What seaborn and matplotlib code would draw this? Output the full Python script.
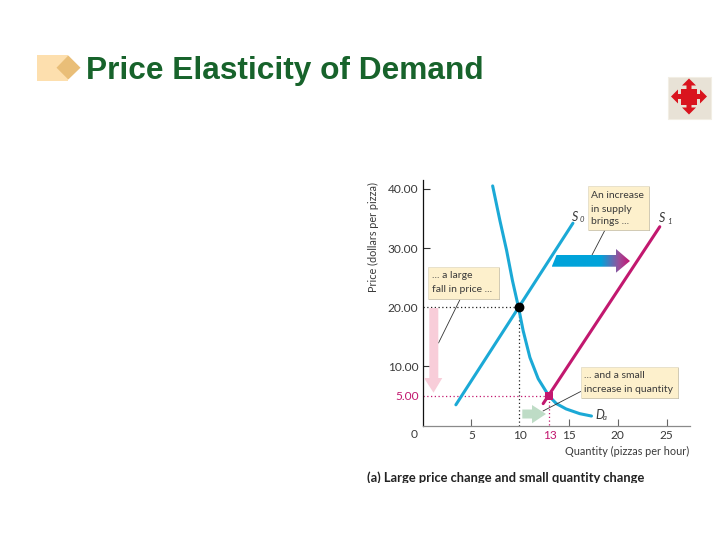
"""Price elasticity of demand slide: supply shift along a steep demand curve."""

import matplotlib
matplotlib.use("Agg")
import matplotlib.pyplot as plt
import numpy as np
import pandas as pd
import seaborn as sns
from matplotlib.colors import LinearSegmentedColormap
from matplotlib.patches import Polygon, Rectangle

# data
demand_q = [7.17, 7.92, 8.6, 9.2, 9.83, 10.3, 10.99, 11.84, 12.93, 13.7, 14.7, 16.1, 17.3]
demand_p = [40.5, 34.6, 29.6, 24.5, 19.9, 16.0, 11.5, 7.9, 5.0, 3.7, 2.8, 2.0, 1.6]
supply0_q = [3.4, 15.4]
supply0_p = [3.5, 34.2]
supply1_q = [12.35, 24.3]
supply1_p = [3.7, 33.6]
x_ticks = [5, 10, 13, 15, 20, 25]
y_ticks = [5, 10, 20, 30, 40]
y_labels = ["5.00", "10.00", "20.00", "30.00", "40.00"]

BLUE = "#1BA9D6"
MAGENTA = "#C2186F"
TEXT = "#3A3A3A"
BOX = "#FDF0CC"

W, H = 720, 540

sns.set_theme(style="white")
plt.rcParams["font.family"] = ["Lato", "DejaVu Sans"]

fig = plt.figure(figsize=(7.2, 5.4), dpi=100)

# overlay in pixel coordinates for the slide furniture and arrows
ov = fig.add_axes([0, 0, 1, 1], zorder=3)
ov.set_xlim(0, W)
ov.set_ylim(H, 0)
ov.axis("off")
ov.patch.set_alpha(0)

ax = fig.add_axes([422.7 / W, 1 - 425.5 / H, (690 - 422.7) / W, (425.5 - 180) / H], zorder=2)
ax.set_xlim(0, 27.4)
ax.set_ylim(0, 41.5)
ax.patch.set_alpha(0)

# ---------------------------------------------------------------------------
# curves
# ---------------------------------------------------------------------------
ax.plot([0, 9.9, 9.9], [20, 20, 0], color="#222222", lw=0.9, ls=(0, (1, 2)), zorder=1)
ax.plot([0, 12.95, 12.95], [5, 5, 0], color=MAGENTA, lw=0.9, ls=(0, (1, 2)), zorder=1)

curves = pd.concat([
    pd.DataFrame({"q": demand_q, "p": demand_p, "curve": "D"}),
    pd.DataFrame({"q": supply0_q, "p": supply0_p, "curve": "S0"}),
    pd.DataFrame({"q": supply1_q, "p": supply1_p, "curve": "S1"}),
])
sns.lineplot(
    data=curves, x="q", y="p", hue="curve", sort=False, estimator=None,
    palette={"D": BLUE, "S0": BLUE, "S1": MAGENTA},
    linewidth=2.2, legend=False, ax=ax, zorder=3, solid_joinstyle="round",
)
sns.scatterplot(x=[9.9], y=[20], color="black", s=50, linewidth=0, ax=ax, zorder=4)
sns.scatterplot(x=[12.95], y=[5], color=MAGENTA, s=34, marker="s", linewidth=0, ax=ax, zorder=4)

# ---------------------------------------------------------------------------
# axes
# ---------------------------------------------------------------------------
for side in ["top", "right"]:
    ax.spines[side].set_visible(False)
ax.spines["left"].set_color("#111111")
ax.spines["left"].set_linewidth(0.9)
ax.spines["bottom"].set_color("#8A8A8A")
ax.spines["bottom"].set_linewidth(0.9)

ax.set_xticks(x_ticks)
ax.set_xticklabels([str(t) for t in x_ticks], fontsize=8.6, color=TEXT)
ax.set_yticks(y_ticks)
ax.set_yticklabels(y_labels, fontsize=8.6, color=TEXT)
ax.tick_params(axis="x", direction="in", length=5, width=0.8, color="#666666", pad=3, bottom=True)
ax.tick_params(axis="y", direction="in", length=5, width=0.8, color="#333333", pad=3, left=True)
ax.get_xticklabels()[2].set_color(MAGENTA)
ax.get_yticklabels()[0].set_color(MAGENTA)
for i, tick in enumerate(ax.xaxis.get_major_ticks()):
    if x_ticks[i] in (10, 13):
        tick.tick1line.set_visible(False)
for i, tick in enumerate(ax.yaxis.get_major_ticks()):
    if y_ticks[i] in (5, 20):
        tick.tick1line.set_visible(False)
ax.set_xlabel("")
ax.set_ylabel("")

ov.text(414, 435, "0", fontsize=8.6, color=TEXT, ha="center", va="center")
ov.text(373, 237, "Price (dollars per pizza)", fontsize=7.8, color=TEXT, rotation=90, ha="center", va="center")
ov.text(689, 451, "Quantity (pizzas per hour)", fontsize=7.8, color=TEXT, ha="right", va="center")
ov.text(367, 478, "(a) Large price change and small quantity change", fontsize=9.3,
        fontweight="bold", color="#222222", ha="left", va="center")
# the source slide cuts the caption off at the bottom
ov.add_patch(Rectangle((360, 483), 300, 8, fc="white", ec="none", zorder=5))

# curve labels
for x, y, main, sub in [(571.5, 217, "S", "0"), (659, 218, "S", "1"), (595, 415, "D", "a")]:
    ov.text(x, y, main, fontsize=9, color=TEXT, style="italic", ha="left", va="center")
    ov.text(x + 8, y + 3, sub, fontsize=5.5, color=TEXT, style="italic", ha="left", va="center")

# ---------------------------------------------------------------------------
# annotation boxes and leaders
# ---------------------------------------------------------------------------
boxes = [
    (587.7, 186, 61.3, 44, ["An increase", "in supply", "brings ..."], 591, [195, 209, 222]),
    (428.3, 267.3, 71, 32, ["... a large", "fall in price ..."], 432.5, [276, 290]),
    (580.7, 367.3, 97.6, 31, ["... and a small", "increase in quantity"], 584.5, [376, 389.5]),
]
for x, y, w, h, lines, tx, tys in boxes:
    ov.add_patch(Rectangle((x + 0.8, y + 0.8), w, h, fc="#9A9A9A", ec="none", zorder=1))
    ov.add_patch(Rectangle((x, y), w, h, fc=BOX, ec="#D8D0B8", lw=0.4, zorder=2))
    for line, ty in zip(lines, tys):
        ov.text(tx, ty, line, fontsize=7.5, color=TEXT, ha="left", va="center", zorder=3)

for xs, ys in [([605, 592], [230, 255]), ([460, 438.5], [299.5, 343]), ([580.7, 543], [391.5, 411])]:
    ov.plot(xs, ys, color="#333333", lw=0.6, zorder=1)

# block arrows
ov.add_patch(Polygon([(429.3, 308), (438.3, 308), (438.3, 378), (442.3, 378), (433.5, 392.7),
                      (424, 378), (429.3, 378)], fc="#F8CDD9", ec="none", zorder=1))
ov.add_patch(Polygon([(522.3, 409.5), (532, 409.5), (532, 405), (546, 414), (532, 423.3),
                      (532, 418.5), (522.3, 418.5)], fc="#BEDCC6", ec="none", zorder=1))

shift = Polygon([(556.5, 255), (616, 255), (616, 249), (630, 261), (616, 272.7), (616, 266.7), (551.7, 266.7)],
                fc="none", ec="none", transform=ov.transData)
ov.add_patch(shift)
grad = LinearSegmentedColormap.from_list("shift", [(0, "#00A3DA"), (0.62, "#00A3DA"), (0.85, "#9A4F9B"), (1, "#C8106E")])
img = ov.imshow(np.linspace(0, 1, 200).reshape(1, -1), cmap=grad, aspect="auto",
                extent=(551.7, 630, 272.7, 249), zorder=2)
img.set_clip_path(shift)
ov.set_xlim(0, W)
ov.set_ylim(H, 0)

# ---------------------------------------------------------------------------
# slide title and nav button
# ---------------------------------------------------------------------------
ov.add_patch(Rectangle((37.3, 55), 31, 25.7, fc="#FDDFAE", ec="none"))
ov.add_patch(Polygon([(56.5, 67.7), (68.3, 55.5), (80.5, 67.7), (68.3, 79.5)], fc="#E9BE78", ec="none"))
ov.text(86, 78.5, "Price Elasticity of Demand", fontsize=22.8, fontweight="bold",
        family="Liberation Sans", color="#17632B", ha="left", va="baseline")

ov.add_patch(Rectangle((668, 76.5), 43, 42.5, fc="#E8E2D6", ec="#F2EEE4", lw=0.8))
cx, cy = 689, 96.5
ov.add_patch(Rectangle((cx - 8, cy - 8), 16, 16, fc="#D9141E", ec="none"))
for dx, dy in [(1, 0), (-1, 0), (0, 1), (0, -1)]:
    px, py = -dy, dx
    pts = [(0.0, 2.5), (11, 2.5), (11, 7), (18, 0), (11, -7), (11, -2.5), (0.0, -2.5)]
    ov.add_patch(Polygon([(cx + a * dx + b * px, cy + a * dy + b * py) for a, b in pts], fc="#D9141E", ec="none"))

fig.savefig("out.png", dpi=100, facecolor="white")
